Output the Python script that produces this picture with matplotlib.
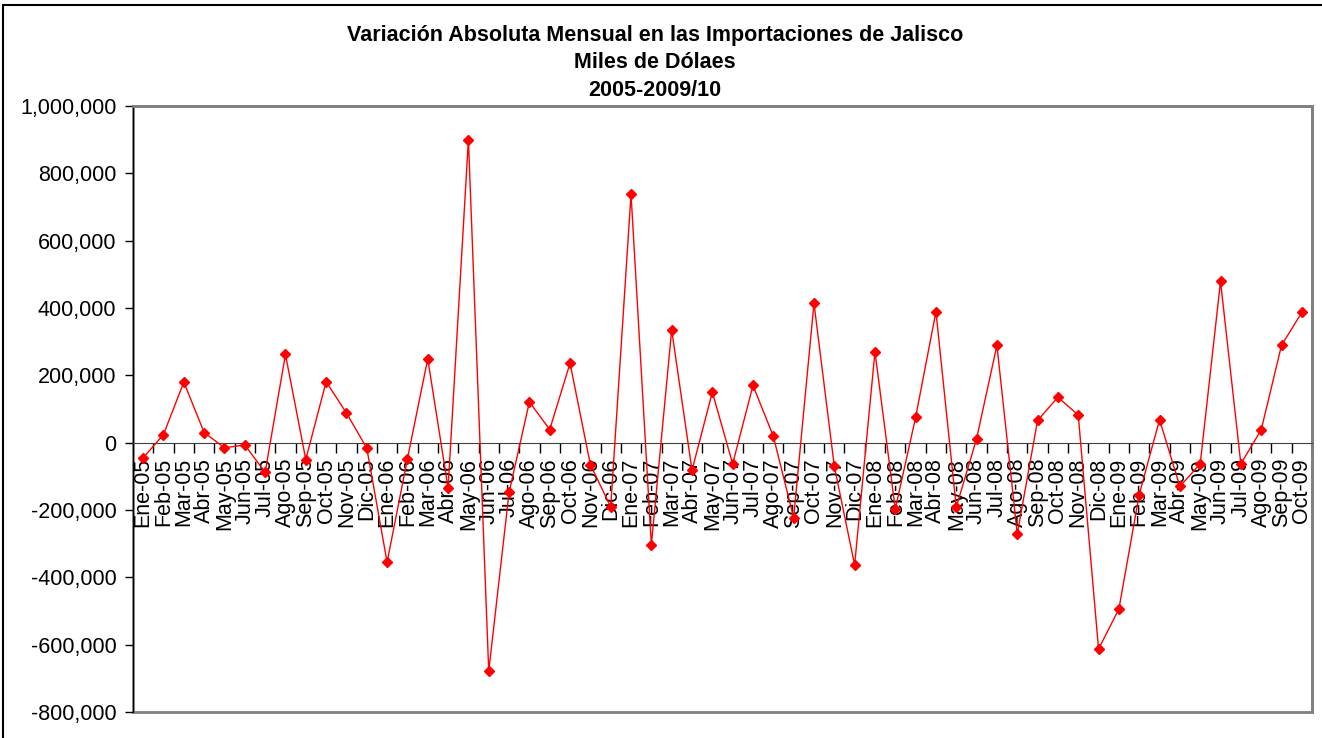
import matplotlib.pyplot as plt
import matplotlib.ticker as mticker
from matplotlib.patches import Rectangle

plt.rcParams['font.family'] = ['Liberation Sans', 'DejaVu Sans']

# Month labels (Ene-05 .. Oct-09)
meses = ['Ene', 'Feb', 'Mar', 'Abr', 'May', 'Jun', 'Jul', 'Ago', 'Sep', 'Oct', 'Nov', 'Dic']
etiquetas = [f'{m}-{a:02d}' for a in range(5, 10) for m in meses][:58]

# Monthly absolute change, thousands of dollars
variacion = [
    -45000, 24000, 180000, 30000, -15000, -7000, -88000, 262000, -50000, 181000, 88000, -16000,
    -355000, -48000, 249000, -135000, 900000, -679000, -148000, 121000, 39000, 236000, -65000, -191000,
    738000, -303000, 335000, -82000, 150000, -63000, 170000, 19000, -223000, 414000, -70000, -363000,
    270000, -197000, 75000, 389000, -192000, 12000, 289000, -271000, 66000, 135000, 82000, -613000,
    -494000, -154000, 68000, -130000, -63000, 479000, -63000, 38000, 289000, 387000,
]

yticks = list(range(-800000, 1000001, 200000))

fig = plt.figure(figsize=(13.22, 7.38), dpi=100)
ax = fig.add_axes([133 / 1322, 1 - 712 / 738, (1312 - 133) / 1322, (712 - 106) / 738])

# spines first (set_position resets the ticks)
ax.spines['bottom'].set_position(('data', 0))
ax.spines['bottom'].set_color('#404040')
ax.spines['left'].set_color('black')
for s in ['top', 'right']:
    ax.spines[s].set_color('#808080')
    ax.spines[s].set_linewidth(2)
ax.add_patch(Rectangle((0, 0), 1, 1, transform=ax.transAxes, fill=False,
                       edgecolor='#808080', lw=2, clip_on=False, zorder=0))

x = list(range(len(variacion)))
ax.plot(x, variacion, color='#FF0000', lw=1, marker='D', markersize=5, zorder=3)

ax.set_xlim(-0.5, len(variacion) - 0.5)
ax.set_ylim(-800000, 1000000)
ax.set_yticks(yticks)
ax.yaxis.set_major_formatter(mticker.FuncFormatter(lambda v, p: f'{int(v):,}'))
ax.tick_params(axis='y', labelsize=15.5, length=6, width=1, pad=6, direction='out')

# category labels at centers, tick marks at boundaries
ax.set_xticks(x)
ax.set_xticklabels(etiquetas, fontsize=15.5)
ax.set_xticks([i - 0.5 for i in range(1, len(variacion) + 1)], minor=True)
ax.tick_params(axis='x', which='major', length=0, pad=11, labelrotation=90)
ax.tick_params(axis='x', which='minor', length=7, width=1, direction='out')
for lbl in ax.get_xticklabels():
    lbl.set_va('top')
    lbl.set_ha('center')

tx = 655 / 1322
fig.text(tx, 1 - 35 / 738, 'Variación Absoluta Mensual en las Importaciones de Jalisco',
         ha='center', va='center', fontsize=15.5, fontweight='bold')
fig.text(tx, 1 - 62 / 738, 'Miles de Dólaes',
         ha='center', va='center', fontsize=15.5, fontweight='bold')
fig.text(tx, 1 - 90 / 738, '2005-2009/10',
         ha='center', va='center', fontsize=15.5, fontweight='bold')

# chart area border
fig.patches.append(Rectangle((3 / 1322, -0.1), 1.1, 1 - 5 / 738 + 0.1, transform=fig.transFigure,
                             fill=False, edgecolor='black', lw=1.5))

fig.savefig('out.png', dpi=100)
